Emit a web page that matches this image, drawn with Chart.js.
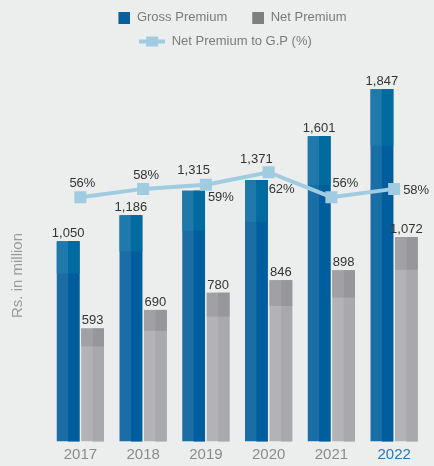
<!DOCTYPE html>
<html>
<head>
<meta charset="utf-8">
<script src="https://cdn.jsdelivr.net/npm/chart.js@4.4.1/dist/chart.umd.min.js"></script>
<style>
  html, body { margin: 0; padding: 0; background: #eceeed; }
  canvas { display: block; }
</style>
</head>
<body>
<canvas id="premiumChart" width="434" height="466"></canvas>
<script>
const years = ['2017', '2018', '2019', '2020', '2021', '2022'];
const grossPremium = [1050, 1186, 1315, 1371, 1601, 1847];
const netPremium = [593, 690, 780, 846, 898, 1072];
const netToGross = [56, 58, 59, 62, 56, 58];

// bar faces: left/right halves and a darker cap on top
const barShades = {
  'Gross Premium': { topLeft: '#2079ab', topRight: '#006b9e', bottomRight: '#005e9e' },
  'Net Premium': { topLeft: '#a1a1a5', topRight: '#97979b', bottomRight: '#a9a9ad' }
};
// label placement tweaks (px)
const grossLabelLift = [0, 0, 13, 13, 0, 0];
const pctLabelOffsets = [[-11, -14], [-10, -13], [2, 13], [0, 17], [1, -14], [9, 2]];

const lineColor = '#a0cbe0';
const labelColor = '#333333';

Chart.defaults.font.family = '"Liberation Sans", Arial, sans-serif';

function squareMarker(color) {
  const c = document.createElement('canvas');
  c.width = 26; c.height = 12;
  const g = c.getContext('2d');
  g.fillStyle = color;
  g.fillRect(14, 0, 12, 12);
  return c;
}
function lineMarker(color) {
  const c = document.createElement('canvas');
  c.width = 26; c.height = 12;
  const g = c.getContext('2d');
  g.fillStyle = color;
  g.fillRect(0, 4, 26, 4);
  g.fillRect(7, 1, 12, 10);
  return c;
}
const legendMarkers = [squareMarker('#0a5e9c'), squareMarker('#7f7f7f'), lineMarker(lineColor)];

const barShading = {
  id: 'barShading',
  afterDatasetDraw(chart, args) {
    const ds = chart.data.datasets[args.index];
    const shade = barShades[ds.label];
    if (!shade) return;
    const ctx = chart.ctx;
    ctx.save();
    args.meta.data.forEach(bar => {
      const { x, y, base, width } = bar.getProps(['x', 'y', 'base', 'width'], true);
      const h = base - y;
      const cap = h * 0.16;
      ctx.fillStyle = shade.bottomRight;
      ctx.fillRect(x, y, width / 2, h);
      ctx.fillStyle = shade.topLeft;
      ctx.fillRect(x - width / 2, y, width / 2, cap);
      ctx.fillStyle = shade.topRight;
      ctx.fillRect(x, y, width / 2, cap);
    });
    ctx.restore();
  }
};

const valueLabels = {
  id: 'valueLabels',
  afterDatasetsDraw(chart) {
    const ctx = chart.ctx;
    ctx.save();
    ctx.fillStyle = labelColor;
    ctx.font = '13px "Liberation Sans", Arial, sans-serif';
    chart.data.datasets.forEach((ds, di) => {
      const meta = chart.getDatasetMeta(di);
      meta.data.forEach((el, i) => {
        const v = ds.data[i];
        if (ds.type === 'line') {
          ctx.textAlign = 'left';
          ctx.textBaseline = 'middle';
          const [dx, dy] = pctLabelOffsets[i];
          ctx.fillText(v + '%', el.x + dx, el.y + dy);
        } else {
          ctx.textAlign = 'center';
          ctx.textBaseline = 'alphabetic';
          const lift = ds.label === 'Gross Premium' ? grossLabelLift[i] : 0;
          ctx.fillText(v.toLocaleString('en-US'), el.x, el.y - 4 - lift);
        }
      });
    });
    ctx.restore();
  }
};

const axisCaption = {
  id: 'axisCaption',
  afterDraw(chart) {
    const { ctx, chartArea } = chart;
    ctx.save();
    ctx.translate(18, chartArea.bottom - 166);
    ctx.rotate(-Math.PI / 2);
    ctx.fillStyle = '#9a9a9a';
    ctx.font = '15px "Liberation Sans", Arial, sans-serif';
    ctx.textAlign = 'center';
    ctx.textBaseline = 'middle';
    ctx.fillText('Rs. in million', 0, 0);
    ctx.restore();
  }
};

new Chart(document.getElementById('premiumChart'), {
  type: 'bar',
  data: {
    labels: years,
    datasets: [
      { label: 'Gross Premium', data: grossPremium, backgroundColor: '#1a6da5', borderWidth: 0, order: 1, yAxisID: 'y' },
      { label: 'Net Premium', data: netPremium, backgroundColor: '#b3b3b7', borderWidth: 0, order: 1, yAxisID: 'y' },
      {
        type: 'line', label: 'Net Premium to G.P (%)', data: netToGross, yAxisID: 'y2', order: 0,
        borderColor: lineColor, borderWidth: 4, tension: 0,
        pointStyle: 'rect', pointRadius: 8.5, pointHoverRadius: 8.5,
        pointBackgroundColor: lineColor, pointBorderWidth: 0
      }
    ]
  },
  options: {
    responsive: false,
    animation: false,
    layout: { padding: { left: 20, right: 3, bottom: -2.5, top: 0 } },
    datasets: { bar: { categoryPercentage: 0.78, barPercentage: 0.93 } },
    plugins: {
      legend: {
        position: 'top',
        labels: {
          usePointStyle: true,
          pointStyleWidth: 26,
          boxHeight: 12,
          padding: 11,
          color: '#7a7a7a',
          font: { size: 13 },
          generateLabels: chart => chart.data.datasets.map((ds, i) => ({
            text: ds.label,
            pointStyle: legendMarkers[i],
            fontColor: '#7a7a7a',
            fillStyle: 'transparent',
            strokeStyle: 'transparent',
            lineWidth: 0,
            hidden: false,
            datasetIndex: i
          }))
        }
      },
      tooltip: { enabled: false }
    },
    scales: {
      x: {
        grid: { display: false, drawTicks: false },
        border: { display: false },
        ticks: {
          padding: 4.5,
          font: { size: 15 },
          color: c => c.index === years.length - 1 ? '#2a78b5' : '#8a8a8a'
        }
      },
      y: {
        min: 0, max: 2011,
        grid: { display: false, drawTicks: false },
        border: { display: false },
        ticks: { display: false },
        afterFit: axis => { axis.width = 29; }
      },
      y2: {
        display: false,
        min: -2.6, max: 89.4
      }
    }
  },
  plugins: [barShading, valueLabels, axisCaption]
});
</script>
</body>
</html>
